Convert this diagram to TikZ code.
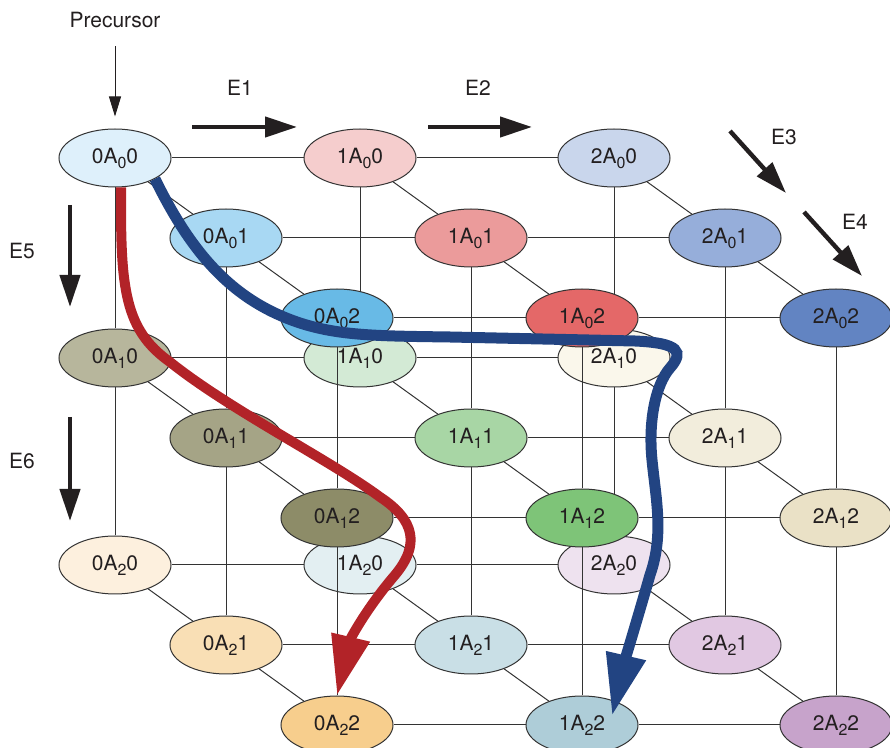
\documentclass[tikz,border=0pt]{standalone}
\usepackage{fontspec}
\setmainfont{TeX Gyre Heros}
\usetikzlibrary{arrows.meta,calc,shapes.geometric}

\definecolor{ink}{HTML}{231F20}
\definecolor{wire}{HTML}{333333}
\definecolor{redroute}{HTML}{B22328}
\definecolor{blueroute}{HTML}{224482}
% fills, name = n<col><row><depth>
\definecolor{n000}{HTML}{DEF0FB}\definecolor{n001}{HTML}{A8D8F3}\definecolor{n002}{HTML}{68BAE6}
\definecolor{n100}{HTML}{F5CDCD}\definecolor{n101}{HTML}{EB9B9B}\definecolor{n102}{HTML}{E46868}
\definecolor{n200}{HTML}{C9D6EC}\definecolor{n201}{HTML}{96AEDA}\definecolor{n202}{HTML}{6284C2}
\definecolor{n010}{HTML}{B7B69C}\definecolor{n011}{HTML}{A5A486}\definecolor{n012}{HTML}{8D8C68}
\definecolor{n110}{HTML}{D3EAD5}\definecolor{n111}{HTML}{A8D6A5}\definecolor{n112}{HTML}{7EC478}
\definecolor{n210}{HTML}{FAF7EB}\definecolor{n211}{HTML}{F2EDDC}\definecolor{n212}{HTML}{EAE1C6}
\definecolor{n020}{HTML}{FDF0DE}\definecolor{n021}{HTML}{F9DFB5}\definecolor{n022}{HTML}{F7CE8D}
\definecolor{n120}{HTML}{E3EFF2}\definecolor{n121}{HTML}{C9DFE6}\definecolor{n122}{HTML}{AECDD8}
\definecolor{n220}{HTML}{EEE2EF}\definecolor{n221}{HTML}{E1C8E2}\definecolor{n222}{HTML}{C7A3CB}
\newcommand{\lowsub}[1]{\raisebox{-2.5pt}{\fontsize{8}{8}\selectfont #1}}

\begin{document}
\begin{tikzpicture}[
  x=0.5pt, y=-0.5pt,
  state/.style={ellipse, draw=wire, line width=0.5pt, minimum width=56pt,
                minimum height=29pt, inner sep=0pt, text=ink,
                font=\fontsize{10.5}{12}\selectfont},
  tag/.style={text=ink, font=\fontsize{10.5}{12}\selectfont},
  link/.style={draw=wire, line width=0.5pt},
  dirarrow/.style={-{Triangle[length=16pt, width=10pt]}, line width=2.2pt, ink},
  feedin/.style={-{Triangle[length=10pt, width=6pt]}, line width=0.5pt, ink},
  redpath/.style={-{Triangle[length=30pt, width=18.5pt]}, line width=5pt, redroute},
  bluepath/.style={-{Triangle[length=31pt, width=19pt]}, line width=5.5pt, blueroute},
]
\useasboundingbox (0,0) rectangle (890,748);

% ---- lattice, one depth layer at a time, back to front ----
\foreach \d in {0,1,2} {
  \foreach \c/\cx in {0/115,1/360,2/614}
    \foreach \r/\ry in {0/158,1/358,2/565}
      \node[state, fill=n\c\r\d] (a\c\r\d) at ({\cx+111*\d},{\ry+80*\d})
        {\c A\lowsub{\r}\d};
  % rows
  \foreach \r in {0,1,2}
    \draw[link] (a0\r\d) -- (a1\r\d) (a1\r\d) -- (a2\r\d);
  % columns
  \foreach \c in {0,1,2} {
    \draw[link] (a\c0\d) -- (a\c1\d);
    \ifnum\c\d=10 \else \draw[link] (a\c1\d) -- (a\c2\d); \fi
  }
  % depth links from the layer behind
  \ifnum\d>0
    \pgfmathtruncatemacro\p{\d-1}
    \foreach \c in {0,1,2}
      \foreach \r in {0,1,2}
        \draw[link] (a\c\r\p) -- (a\c\r\d);
  \fi
}

% ---- precursor feed ----
\node[tag] (precursor) at (115,20) {Precursor};
\draw[feedin, shorten <=5.75pt, shorten >=6pt] (precursor) -- (a000);

% ---- direction arrows E1..E6 ----
\foreach \n/\sx/\sy/\ex/\ey in {1/192/127/297/127, 2/428/127/532/127,
    3/730/131/786/193, 4/804/212/862/276, 5/70/205/70/307, 6/70/417/70/521} {
  \coordinate (from\n) at (\sx,\sy);
  \coordinate (to\n) at (\ex,\ey);
  \draw[dirarrow] (from\n) -- (to\n);
}
\foreach \n/\lx/\ly in {1/240/88, 2/478/88, 3/784/137, 4/855/222, 5/22/251, 6/22/461}
  \node[tag] (elab\n) at (\lx,\ly) {E\n};

% ---- the two routes ----
\draw[redpath] (a000.-78) .. controls (120,290) and (125,330) .. (170,362)
  .. controls (230,410) and (330,460) .. (380,497)
  .. controls (415,520) and (420,545) .. (395,575)
  .. controls (365,610) and (350,640) .. (a022.north);

\coordinate (bluetip) at ($(a122.center)+(30,-9)$);
\draw[bluepath] (a000.south east) .. controls (190,250) and (230,300) .. (300,323)
  .. controls (340,336) and (380,336) .. (450,337)
  -- (635,341)
  .. controls (680,343) and (684,352) .. (670,368)
  .. controls (656,384) and (648,420) .. (652,460)
  .. controls (656,500) and (664,535) .. (650,575)
  .. controls (640,610) and (625,660) .. (bluetip);

\end{tikzpicture}
\end{document}
